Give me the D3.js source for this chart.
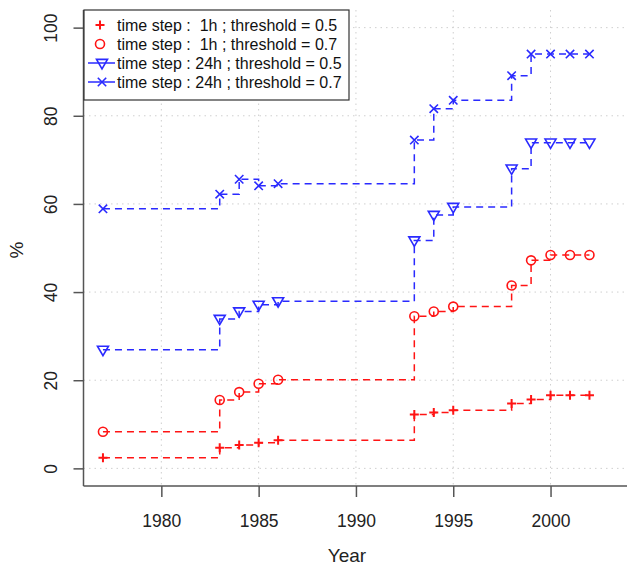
<!DOCTYPE html>
<html>
<head>
<meta charset="utf-8">
<script src="https://cdn.jsdelivr.net/npm/d3@7"></script>
<style>
  html, body { margin: 0; padding: 0; background: #fff; }
  svg { display: block; font-family: "Liberation Sans", Arial, Helvetica, sans-serif; }
</style>
</head>
<body>
<svg id="chart" width="627" height="566"></svg>
<script>
// ---- data ----
const years = [1977, 1983, 1984, 1985, 1986, 1993, 1994, 1995, 1998, 1999, 2000, 2001, 2002];
const h1_t05  = [2.4, 4.7, 5.3, 5.8, 6.4, 12.2, 12.7, 13.2, 14.7, 15.6, 16.6, 16.6, 16.6];
const h1_t07  = [8.3, 15.5, 17.3, 19.2, 20.1, 34.5, 35.6, 36.7, 41.5, 47.2, 48.4, 48.4, 48.4];
const h24_t05 = [26.9, 33.9, 35.6, 37.1, 37.9, 51.7, 57.5, 59.3, 68.0, 73.9, 73.9, 73.9, 73.9];
const h24_t07 = [58.9, 62.2, 65.6, 64.1, 64.6, 74.5, 81.6, 83.5, 89.1, 94.0, 94.0, 94.0, 94.0];
const seriesNames = [
  "time step :  1h ; threshold = 0.5",
  "time step :  1h ; threshold = 0.7",
  "time step : 24h ; threshold = 0.5",
  "time step : 24h ; threshold = 0.7"
];
const xTicks = [1980, 1985, 1990, 1995, 2000];
const yTicks = [0, 20, 40, 60, 80, 100];

const RED = "#ff1414", BLUE = "#2a2aff";
const series = [
  { name: seriesNames[0], values: h1_t05,  color: RED,  shape: "plus",  legendLine: false },
  { name: seriesNames[1], values: h1_t07,  color: RED,  shape: "circle", legendLine: false },
  { name: seriesNames[2], values: h24_t05, color: BLUE, shape: "tri",   legendLine: true },
  { name: seriesNames[3], values: h24_t07, color: BLUE, shape: "cross", legendLine: true }
];

// ---- layout ----
const svg = d3.select("#chart");
const plotL = 83.5, plotT = 10, plotB = 486, plotR = 627;
const x = d3.scaleLinear().domain([1976, 2005]).range([plotL, plotL + 29 * 19.46]);
const y = d3.scaleLinear().domain([-4, 104]).range([plotB, plotT]);

// grid
const grid = svg.append("g").attr("stroke", "#cfcfcf").attr("stroke-width", 1).attr("stroke-dasharray", "1.5,4");
xTicks.forEach(t => grid.append("line").attr("x1", x(t)).attr("x2", x(t)).attr("y1", plotT).attr("y2", plotB));
yTicks.forEach(t => grid.append("line").attr("x1", plotL).attr("x2", plotR).attr("y1", y(t)).attr("y2", y(t)));

// axes
const axisColor = "#555";
const xAxis = svg.append("g").attr("transform", `translate(0,${plotB})`)
  .call(d3.axisBottom(x).tickValues(xTicks).tickFormat(d3.format("d")).tickSize(11).tickPadding(18));
xAxis.select(".domain").remove();
xAxis.selectAll("line").attr("stroke", axisColor).attr("stroke-width", 1.5);
xAxis.selectAll("text").attr("font-size", 17.5).attr("fill", "#222").attr("font-family", "Liberation Sans, Arial, sans-serif");

const yAxis = svg.append("g").attr("transform", `translate(${plotL},0)`)
  .call(d3.axisLeft(y).tickValues(yTicks).tickSize(10).tickPadding(0));
yAxis.select(".domain").remove();
yAxis.selectAll("line").attr("stroke", axisColor).attr("stroke-width", 1.5);
yAxis.selectAll("text")
  .attr("font-size", 17.5).attr("fill", "#222").attr("font-family", "Liberation Sans, Arial, sans-serif")
  .attr("text-anchor", "middle").attr("dy", null).attr("x", null)
  .attr("transform", d => `translate(${50 - plotL},0) rotate(-90) translate(0,6.5)`);

// box lines (left & bottom)
svg.append("line").attr("x1", plotL).attr("x2", plotL).attr("y1", plotT).attr("y2", plotB)
  .attr("stroke", axisColor).attr("stroke-width", 1.5);
svg.append("line").attr("x1", plotL).attr("x2", plotR).attr("y1", plotB).attr("y2", plotB)
  .attr("stroke", axisColor).attr("stroke-width", 1.5);

// axis titles
svg.append("text").attr("x", 347).attr("y", 562).attr("text-anchor", "middle")
  .attr("font-size", 19).attr("fill", "#222").text("Year");
svg.append("text").attr("transform", "translate(23,250) rotate(-90)").attr("text-anchor", "middle")
  .attr("font-size", 19).attr("fill", "#222").text("%");

// marker drawing
function marker(g, shape, color, cx, cy) {
  const m = g.append("g").attr("transform", `translate(${cx},${cy})`)
    .attr("stroke", color).attr("fill", "none").attr("stroke-width", 1.6);
  if (shape === "plus") {
    m.append("path").attr("d", "M-4.5,0H4.5M0,-4.5V4.5").attr("stroke-width", 2);
  } else if (shape === "circle") {
    m.append("circle").attr("r", 4.5);
  } else if (shape === "tri") {
    m.append("path").attr("d", "M-5.5,-3.6L5.5,-3.6L0,5.8Z");
  } else if (shape === "cross") {
    m.append("path").attr("d", "M-4.2,-4.2L4.2,4.2M-4.2,4.2L4.2,-4.2");
  }
}

// step lines and points
const line = d3.line().x(d => x(d[0])).y(d => y(d[1])).curve(d3.curveStepAfter);
series.forEach(s => {
  const pts = years.map((yr, i) => [yr, s.values[i]]);
  svg.append("path").datum(pts).attr("d", line)
    .attr("fill", "none").attr("stroke", s.color).attr("stroke-width", 1.5)
    .attr("stroke-dasharray", "7,5");
  const g = svg.append("g");
  pts.forEach(p => marker(g, s.shape, s.color, x(p[0]), y(p[1])));
});

// legend
const lg = svg.append("g");
lg.append("rect").attr("x", 84).attr("y", 10).attr("width", 265).attr("height", 90)
  .attr("fill", "#fff").attr("stroke", "#333").attr("stroke-width", 1.2);
series.forEach((s, i) => {
  const cy = 25 + i * 19;
  if (s.legendLine) {
    lg.append("line").attr("x1", 88).attr("x2", 115).attr("y1", cy).attr("y2", cy)
      .attr("stroke", s.color).attr("stroke-width", 1.5);
    marker(lg, s.shape, s.color, 102, cy);
  } else {
    marker(lg, s.shape, s.color, 100, cy);
  }
  lg.append("text").attr("x", 117).attr("y", cy + 5.5).attr("font-size", 16)
    .attr("fill", "#111").style("white-space", "pre").text(s.name);
});
</script>
</body>
</html>
